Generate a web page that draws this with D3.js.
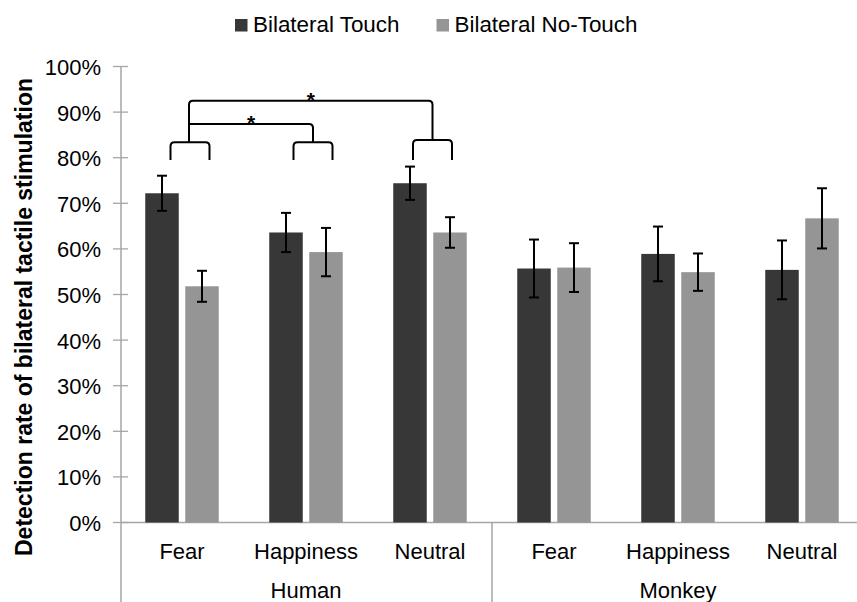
<!DOCTYPE html>
<html>
<head>
<meta charset="utf-8">
<script src="https://cdn.jsdelivr.net/npm/d3@7"></script>
<style>
html,body{margin:0;padding:0;background:#fff;}
svg{display:block;font-family:"Liberation Sans",Arial,sans-serif;}
</style>
</head>
<body>
<svg id="chart" width="857" height="602"></svg>
<script>
// ---- data ----
const groups = ["Human", "Monkey"];
const emotions = ["Fear", "Happiness", "Neutral", "Fear", "Happiness", "Neutral"];
const seriesNames = ["Bilateral Touch", "Bilateral No-Touch"];
const touchValues   = [0.722, 0.636, 0.744, 0.557, 0.589, 0.554];
const touchErrors   = [0.0385, 0.043, 0.0365, 0.0635, 0.060, 0.0645];
const noTouchValues = [0.518, 0.593, 0.636, 0.559, 0.549, 0.667];
const noTouchErrors = [0.034, 0.053, 0.0335, 0.0535, 0.041, 0.066];
const yTicks = [0, 0.1, 0.2, 0.3, 0.4, 0.5, 0.6, 0.7, 0.8, 0.9, 1.0];
// significance brackets (human categories): small bracket per category, and comparisons
const bracketCats = [0, 1, 2];
const bracketTop  = [0.834, 0.834, 0.839];
const bracketBottom = 0.795;
const comparisons = [ {from: 0, to: 1, level: 0.874, label: "*"},
                      {from: 0, to: 2, level: 0.925, label: "*"} ];

(function () {
// ---- layout ----
const svg = d3.select("#chart");
const W = 857, H = 602;
const pLeft = 120, pRight = 864, pTop = 66.5, pBottom = 522.5;
const darkC = "#373737", lightC = "#959595", axisC = "#a6a6a6";

const y = d3.scaleLinear().domain([0, 1]).range([pBottom, pTop]);
const x = d3.scaleBand().domain(d3.range(emotions.length)).range([pLeft, pRight]).padding(0);
const g = d3.scaleBand().domain(groups).range([pLeft, pRight]).padding(0);
const barW = 33.5, barOff = 20;

// y axis
const yAxis = d3.axisLeft(y).tickValues(yTicks).tickFormat(d3.format(".0%")).tickSize(0).tickPadding(20);
const ya = svg.append("g").attr("transform", `translate(${pLeft + 1},0)`).call(yAxis);
ya.select(".domain").remove();
ya.selectAll("text").attr("font-size", 22).attr("fill", "#000")
  .attr("font-family", '"Liberation Sans",Arial,sans-serif').attr("dy", "0.36em");
// crossing tick marks
svg.append("g").selectAll("line").data(yTicks).join("line")
  .attr("x1", pLeft - 7).attr("x2", pLeft + 8)
  .attr("y1", d => y(d)).attr("y2", d => y(d))
  .attr("stroke", axisC).attr("stroke-width", 1.3);
// y axis line
svg.append("line").attr("x1", pLeft + 1).attr("x2", pLeft + 1).attr("y1", pTop).attr("y2", H)
  .attr("stroke", axisC).attr("stroke-width", 1.5);
// x axis line
svg.append("line").attr("x1", pLeft).attr("x2", W).attr("y1", y(0)).attr("y2", y(0))
  .attr("stroke", axisC).attr("stroke-width", 1.5);
// group divider
svg.append("line").attr("x1", g("Monkey")).attr("x2", g("Monkey")).attr("y1", y(0)).attr("y2", H)
  .attr("stroke", axisC).attr("stroke-width", 1.5);

// bars
const series = [
  {name: seriesNames[0], vals: touchValues, errs: touchErrors, color: darkC, off: -barOff},
  {name: seriesNames[1], vals: noTouchValues, errs: noTouchErrors, color: lightC, off: barOff}
];
series.forEach(s => {
  const cx = i => x(i) + x.bandwidth() / 2 + s.off;
  svg.append("g").selectAll("rect").data(s.vals).join("rect")
    .attr("x", (d, i) => cx(i) - barW / 2).attr("width", barW)
    .attr("y", d => y(d)).attr("height", d => y(0) - y(d))
    .attr("fill", s.color);
  const eg = svg.append("g").attr("stroke", "#000").attr("stroke-width", 2);
  s.vals.forEach((v, i) => {
    const e = s.errs[i], c = cx(i);
    eg.append("line").attr("x1", c).attr("x2", c).attr("y1", y(v + e)).attr("y2", y(v - e));
    eg.append("line").attr("x1", c - 5).attr("x2", c + 5).attr("y1", y(v + e)).attr("y2", y(v + e));
    eg.append("line").attr("x1", c - 5).attr("x2", c + 5).attr("y1", y(v - e)).attr("y2", y(v - e));
  });
});

// x labels
svg.append("g").selectAll("text").data(emotions).join("text")
  .attr("x", (d, i) => x(i) + x.bandwidth() / 2).attr("y", 558.5)
  .attr("text-anchor", "middle").attr("font-size", 22).attr("fill", "#000").text(d => d);
svg.append("g").selectAll("text").data(groups).join("text")
  .attr("x", d => g(d) + g.bandwidth() / 2).attr("y", 598)
  .attr("text-anchor", "middle").attr("font-size", 22).attr("fill", "#000").text(d => d);

// y title
svg.append("text").attr("transform", "translate(31.5,317) rotate(-90)")
  .attr("text-anchor", "middle").attr("font-size", 23).attr("font-weight", "bold").attr("fill", "#000")
  .text("Detection rate of bilateral tactile stimulation");

// legend
const lg = svg.append("g");
const legX = [235, 436.5];
series.forEach((s, i) => {
  lg.append("rect").attr("x", legX[i]).attr("y", 19).attr("width", 12.5).attr("height", 12.5).attr("fill", s.color);
  lg.append("text").attr("x", legX[i] + 18).attr("y", 32.3).attr("font-size", 22.4).attr("fill", "#000").text(s.name);
});

// significance brackets
const shift = [8, 7, 2.5], half = 19.5, r = 4;
const bc = k => x(bracketCats[k]) + x.bandwidth() / 2 + shift[k];
const br = svg.append("g").attr("fill", "none").attr("stroke", "#000").attr("stroke-width", 2);
bracketCats.forEach((c, k) => {
  const xl = bc(k) - half, xr = bc(k) + half, yt = y(bracketTop[k]), yb = y(bracketBottom);
  br.append("path").attr("d",
    `M${xl},${yb} L${xl},${yt + r} Q${xl},${yt} ${xl + r},${yt} L${xr - r},${yt} Q${xr},${yt} ${xr},${yt + r} L${xr},${yb}`);
});
comparisons.forEach(cmp => {
  const xa = bc(cmp.from) - 1, xb = bc(cmp.to), yl = y(cmp.level);
  const ya0 = y(bracketTop[cmp.from]), yb0 = y(bracketTop[cmp.to]);
  if (cmp.level > 0.9) {
    br.append("path").attr("d",
      `M${xa},${ya0} L${xa},${yl + r} Q${xa},${yl} ${xa + r},${yl} L${xb - r},${yl} Q${xb},${yl} ${xb},${yl + r} L${xb},${yb0}`);
  } else {
    br.append("path").attr("d",
      `M${xa},${yl} L${xb - r},${yl} Q${xb},${yl} ${xb},${yl + r} L${xb},${yb0}`);
  }
  svg.append("text").attr("x", (xa + xb) / 2).attr("y", yl + 6).attr("text-anchor", "middle")
    .attr("font-size", 21).attr("font-weight", "bold").attr("fill", "#000").text(cmp.label);
});
})();
</script>
</body>
</html>
